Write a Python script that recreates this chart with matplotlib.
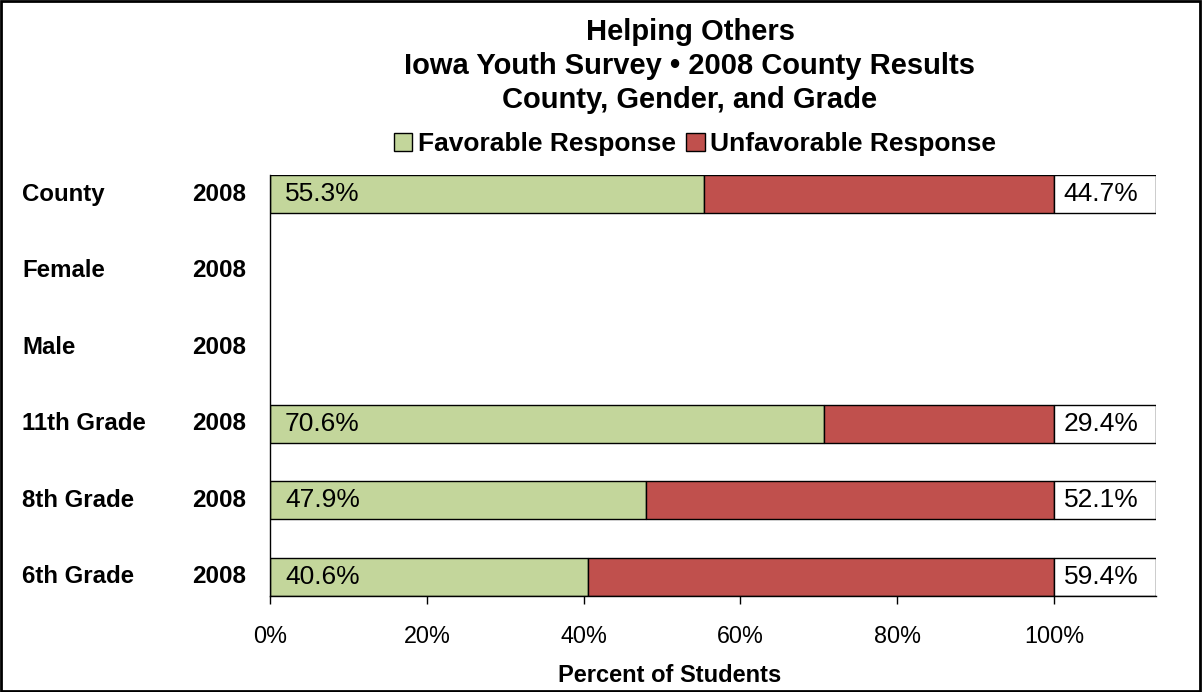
import matplotlib
matplotlib.use("Agg")
import matplotlib.pyplot as plt
from matplotlib.patches import Rectangle, Patch
import numpy as np

plt.rcParams['font.family'] = ['Liberation Sans', 'DejaVu Sans']

groups = ["County", "Female", "Male", "11th Grade", "8th Grade", "6th Grade"]
years = ["2008", "2008", "2008", "2008", "2008", "2008"]
favorable = [55.3, None, None, 70.6, 47.9, 40.6]
unfavorable = [44.7, None, None, 29.4, 52.1, 59.4]
xticks = [0, 20, 40, 60, 80, 100]
label_box = 13.0  # width of the white label cell right of each bar

green = "#C3D69B"
red = "#C0504D"

W, H = 1202, 692
fig = plt.figure(figsize=(W / 100, H / 100), dpi=100)
ax = fig.add_axes([270 / W, 96 / H, 886 / W, 421 / H])

for i, (f, u) in enumerate(zip(favorable, unfavorable)):
    if f is None:
        continue
    ax.barh(i, f, height=0.5, color=green, edgecolor="black", linewidth=1)
    ax.barh(i, u, left=f, height=0.5, color=red, edgecolor="black", linewidth=1)
    ax.barh(i, label_box, left=f + u, height=0.5, color="white", edgecolor="black", linewidth=1)
    ax.text(1.9, i, f"{f:.1f}%", va="center", ha="left", fontsize=19)
    ax.text(f + u + 1.2, i, f"{u:.1f}%", va="center", ha="left", fontsize=19)

ax.set_ylim(len(groups) - 0.75, -0.25)
ax.set_xlim(0, 100 + label_box)
ax.set_xticks(xticks)
ax.set_xticklabels([f"{t}%" for t in xticks], fontsize=16.8)
ax.set_yticks([])
ax.tick_params(axis="x", direction="out", length=6, width=1, pad=15)
for s in ["top", "right"]:
    ax.spines[s].set_visible(False)
ax.spines["left"].set_linewidth(1)
ax.spines["bottom"].set_linewidth(1)

fig.text(670 / W, 1 - 675 / H, "Percent of Students", ha="center", va="center",
         fontsize=17, fontweight="bold")

# category and year labels
span = 100 + label_box
for i, (g, yr) in enumerate(zip(groups, years)):
    ax.text(-248 / 886 * span, i, g, ha="left", va="center",
            fontsize=17.3, fontweight="bold")
    ax.text(-24 / 886 * span, i, yr, ha="right", va="center",
            fontsize=17.5, fontweight="bold")

# title
title_lines = ["Helping Others", "Iowa Youth Survey \u2022 2008 County Results",
               "County, Gender, and Grade"]
for k, line in enumerate(title_lines):
    fig.text(690 / W, 1 - (32 + 34 * k) / H, line, ha="center", va="center",
             fontsize=21, fontweight="bold")

handles = [Patch(facecolor=green, edgecolor="black", linewidth=1),
           Patch(facecolor=red, edgecolor="black", linewidth=1)]
fig.legend(handles, ["Favorable Response", "Unfavorable Response"],
           loc="center", bbox_to_anchor=(695 / W, 1 - 144 / H), ncol=2,
           frameon=False, prop={"weight": "bold", "size": 19},
           handlelength=0.7, handleheight=0.7, handletextpad=0.2, columnspacing=0.4)

fig.patches.append(Rectangle((0.001, 0.002), 0.997, 0.996, transform=fig.transFigure,
                             fill=False, edgecolor="black", linewidth=2))

fig.savefig("out.png", dpi=100)
